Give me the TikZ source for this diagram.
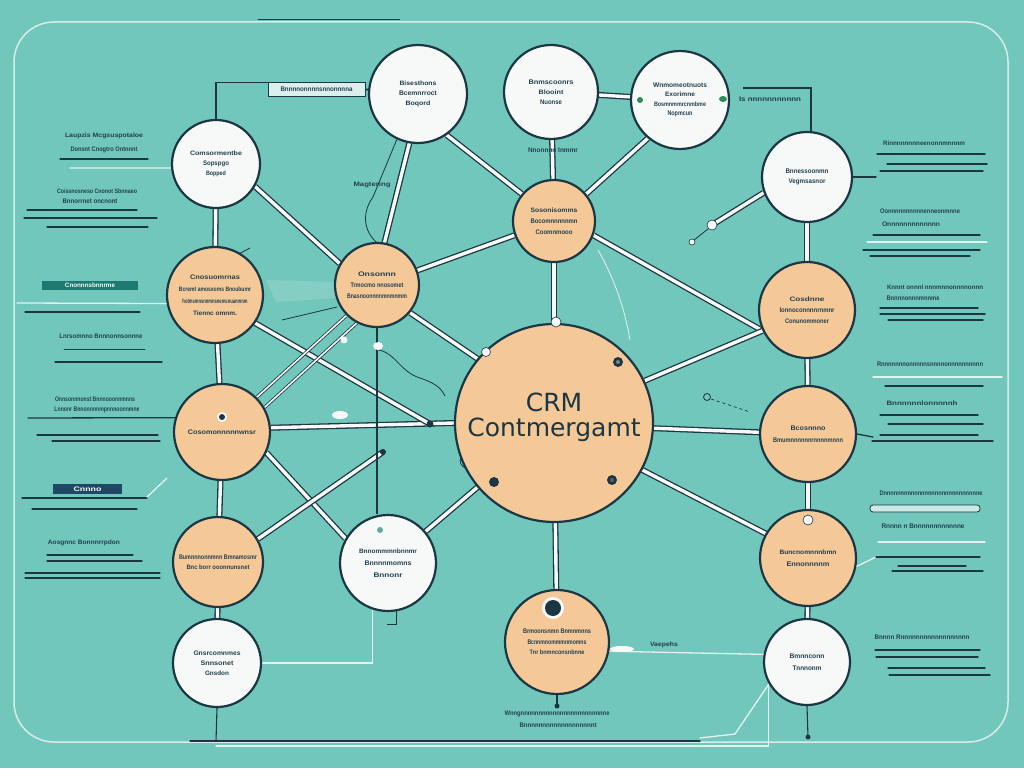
\documentclass[tikz,border=0pt]{standalone}
\usepackage{fontspec}
\setmainfont{Liberation Sans}
\newfontfamily\crmfont{DejaVu Sans}
\usepackage{graphicx}
\pgfdeclarelayer{back}
\pgfdeclarelayer{edges}
\pgfsetlayers{back,edges,main}
\definecolor{bgc}{HTML}{72C7BC}
\definecolor{peach}{HTML}{F5C898}
\definecolor{wh}{HTML}{F7F9F8}
\definecolor{dk}{HTML}{1B3744}
\definecolor{tx}{HTML}{22404F}
\definecolor{tealbox}{HTML}{1D7A70}
\definecolor{navybox}{HTML}{1E4864}
\definecolor{gdot}{HTML}{2E8B5A}
\newcommand{\gb}[2]{\resizebox{#1pt}{4.6pt}{\bfseries #2}}
\begin{document}
\begin{tikzpicture}[x=1pt,y=-1pt,
  wc/.style={circle, draw=dk, line width=2.2pt, fill=wh, inner sep=0pt, align=center, text=tx, font=\fontsize{4}{10}\selectfont},
  pc/.style={wc, fill=peach},
  dbl/.style={draw=dk, line width=1.3pt, double=wh, double distance=3.4pt},
  dbls/.style={draw=dk, line width=0.8pt, double=wh, double distance=1.6pt},
  tln/.style={draw=dk, line width=1.1pt},
  ln/.style={draw=dk, line width=1.3pt, line cap=round},
  wln/.style={draw=wh, line width=1.3pt, opacity=.85, line cap=round},
  lab/.style={inner sep=0pt, text=tx}]
\useasboundingbox (0,0) rectangle (1024,768);
\begin{pgfonlayer}{back}
\fill[bgc] (0,0) rectangle (1024,768);
\draw[wh, line width=1.5pt, opacity=.75, rounded corners=40pt] (14,22) rectangle (1008,742);
\draw[dk, line width=.8pt] (258,19) -- (400,19);
\fill[wh, opacity=.15] (266,280) -- (338,282) -- (336,298) -- (276,302) -- cycle;
\end{pgfonlayer}

% ---------- circles ----------
\node[wc, minimum size=88pt] (nA) at (216,164) {\gb{52}{Comsormentbe}\\\gb{26}{Sopspgo}\\\gb{20}{Bopped}};
\node[wc, minimum size=98pt] (nB) at (418,94) {\gb{37}{Bisesthons}\\\gb{38}{Bcemnrroct}\\\gb{25}{Boqord}};
\node[wc, minimum size=94pt] (nC) at (551,92) {\gb{45}{Bnmscoonrs}\\\gb{25}{Blooint}\\\gb{22}{Nuonse}};
\node[wc, minimum size=98pt, font=\fontsize{4}{9.5}\selectfont] (nD) at (680,100) {\gb{54}{Wnmomeotnuots}\\\gb{30}{Exorimne}\\\gb{52}{Bosmnmmrcnmbme}\\\gb{25}{Nopmcun}};
\node[wc, minimum size=90pt] (nE) at (807,177) {\gb{43}{Bnnessoonmn}\\\gb{37}{Vegmsasnor}};
\node[wc, minimum size=96pt, font=\fontsize{4}{12}\selectfont] (nF) at (388,563) {\gb{58}{Bnnommmnbnnmr}\\\gb{47}{Bnnnnmomns}\\\gb{29}{Bnnonr}};
\node[wc, minimum size=88pt] (nG) at (217,663) {\gb{47}{Gnsrcomnmes}\\\gb{33}{Snnsonet}\\\gb{24}{Gnsdon}};
\node[wc, minimum size=86pt, font=\fontsize{4}{12}\selectfont] (nH) at (807,662) {\gb{35}{Bmnnconn}\\\gb{29}{Tnnnonm}};

\node[pc, minimum size=96pt, font=\fontsize{4}{12}\selectfont] (p1) at (215,295) {\gb{50}{Cnosuomrnas}\\\gb{72}{Bcremt amosxoms Bnoubumr}\\\gb{65}{hotmsmnsnnmnsnemsnuanmnm}\\\gb{44}{Tiennc omnm.}};
\node[pc, minimum size=84pt, font=\fontsize{4}{11}\selectfont] (p2) at (377,285) {\gb{38}{Onsonnn}\\\gb{53}{Trmocmo nnosomet}\\\gb{60}{Bnasnoonnnnmnmnmm}};
\node[pc, minimum size=82pt, font=\fontsize{4}{11}\selectfont] (p3) at (554,221) {\gb{47}{Sosonisomms}\\\gb{47}{Bocomnnnnnmn}\\\gb{37}{Coomnmooo}};
\node[pc, minimum size=96pt, font=\fontsize{4}{11}\selectfont] (p4) at (807,310) {\gb{35}{Cosdnne}\\\gb{55}{Ionnoconnnnrnmnr}\\\gb{44}{Conunommoner}};
\node[pc, minimum size=96pt] (p5) at (222,432) {\gb{68}{Cosomonnnnnwnsr}};
\node[pc, minimum size=96pt, font=\fontsize{4}{12}\selectfont] (p6) at (808,434) {\gb{35}{Bcosnnno}\\\gb{70}{Bmumnnnnnnrnnnnmnnn}};
\node[pc, minimum size=90pt] (p7) at (218,562) {\gb{78}{Bumnnnonnmnn Bmnamosmr}\\\gb{63}{Bnc borr ooonnunsnet}};
\node[pc, minimum size=96pt, font=\fontsize{4}{12}\selectfont] (p8) at (808,558) {\gb{57}{Buncnomnnnbmn}\\\gb{43}{Ennonnnnm}};
\node[pc, minimum size=104pt, font=\fontsize{4}{10.5}\selectfont] (p9) at (557,642) {\gb{68}{Brmoonsnmn Bnmnmnns}\\\gb{59}{Bcnnmnommmnmomns}\\\gb{55}{Tnr bnmnconsnbnne}};
\node[pc, minimum size=198pt, text=dk, font=\crmfont\fontsize{25}{25}\selectfont] (crm) at (554,423) {CRM\\Contmergamt\\[-8pt]\mbox{}};

% ---------- labels ----------
\node[lab, fill=wh!80!bgc, draw=dk, line width=.8pt, minimum width=97pt, minimum height=14pt] (lbl1) at (316.5,89.5) {\gb{72}{Bnnnnonnnnsnnonnnna}};
\node[lab] (l1) at (104,136) {\gb{78}{Laupzis Mcgsuspotaloe}};
\node[lab] (l2) at (104,150) {\gb{67}{Donsnt Cnogtro Ontnnnt}};
\node[lab] (l3) at (97,191) {\gb{80}{Coissnosneso Cnonot Sbnnaeo}};
\node[lab] (l4) at (90,201) {\gb{55}{Bnnorrnet oncnont}};
\node[lab, fill=tealbox, minimum width=96pt, minimum height=9pt, text=wh] (l5) at (90,285.5) {\gb{50}{Cnonnnsbnnrme}};
\node[lab] (l6) at (101,336) {\gb{83}{Lnrsomnno Bnnnonnsonnne}};
\node[lab] (l7) at (95,399) {\gb{80}{Onnsonnnonst Bnnnooonnmnns}};
\node[lab] (l8) at (97,410) {\gb{85}{Lnnonr Bnnonnnnmpnnnoonnmne}};
\node[lab, fill=navybox, minimum width=69pt, minimum height=10pt, text=wh] (l9) at (87.5,489) {\gb{28}{Cnnno}};
\node[lab] (l10) at (84,543) {\gb{72}{Aosgnnc Bonnnrrpdon}};
\node[lab] (r1) at (924,143) {\gb{82}{Rinnnnnnnneenonnmnnnm}};
\node[lab] (r2) at (920,211) {\gb{80}{Oonnnnnnnnnnenneonmnne}};
\node[lab] (r3) at (911,224) {\gb{58}{Onnnnnnnnnnnnn}};
\node[lab] (r4) at (935,287) {\gb{96}{Knnnt onnnl nnnmnnonnnnonnn}};
\node[lab] (r5) at (913,298) {\gb{53}{Bnnnnonnnmnnme}};
\node[lab] (r6) at (930,364) {\gb{106}{Rnnnnnnnonnnnnsnnnnonnnnnnnnnn}};
\node[lab] (r7) at (922,403) {\gb{71}{Bnnnnnnlonnnnnh}};
\node[lab] (r8) at (931,493) {\gb{103}{Dnnnnnnnnnnnnnnnnnnnnnnnnnnnne}};
\node[lab] (r9) at (923,526) {\gb{83}{Rnnnn n Bnnnnnnnnnnnne}};
\node[lab] (r10) at (922,637) {\gb{95}{Bnnnn Rnnnnnnnnnnnnnnnnnn}};
\node[lab] (m1) at (372,185) {\gb{37}{Magtering}};
\node[lab] (m2) at (553,150) {\gb{50}{Nnonnnn Inmmr}};
\node[lab] (m3) at (770,99) {\gb{62}{Is nnnnnnnnnnn}};
\node[lab] (m5) at (664,645) {\gb{28}{Vaepehs}};
\node[lab] (m6) at (557,714) {\gb{105}{Wnngnnnnnnnnnnnnnnnnnnnnnnnne}};
\node[lab] (m7) at (558,725) {\gb{77}{Bnnnnnnnnnnnnnnnnnnnt}};

% ---------- coordinates ----------
\coordinate (dA) at (430,424);
\coordinate (dB) at (383,452);
\coordinate (eD1) at (712,225);
\coordinate (mg) at (373,197);
\coordinate (ec) at (743,88);
\coordinate (gb) at (216,741);
\coordinate (hb) at (808,737);
\coordinate (pb) at (557,706);
\coordinate (wl1) at (216,746);
\coordinate (wl2) at (700,738);
\coordinate (er) at (876,177);
\coordinate (e6) at (873,437);
\coordinate (l7s) at (28,418);
\coordinate (aw) at (70,168);
\coordinate (pw) at (17,303);
\coordinate (p8w) at (878,556);

% ---------- connectors ----------
\begin{pgfonlayer}{edges}
\draw[dbl] (nA) -- (p1);
\draw[dbl] (nA.-30) -- (p2.150);
\draw[dbl] (nB.-100) -- (p2.80);
\draw[dbl] (nB.-55) -- (p3.140);
\draw[dbl] (nC) -- (p3);
\draw[dbl] (nC) -- (nD);
\draw[dbl] (nD.-130) -- (p3.40);
\draw[dbl] (p2) -- (p3);
\draw[dbl] (p3.-20) -- (p4.205);
\draw[dbl] (p3) -- (crm);
\draw[dbl] (p2.-40) -- (crm.140);
\draw[dbl] (crm.25) -- (p4.205);
\draw[dbl] (crm.-3) -- (p6.178);
\draw[dbl] (crm.-28) -- (p8.150);
\draw[dbl] (crm) -- (p9);
\draw[dbl] (crm.-140) -- (nF.40);
\draw[dbl] (p5.5) -- (crm.180);
\draw[dbl] (p1.-35) -- (dA);
\draw[dbl] (p5.-25) -- (nF.150);
\draw[dbl] (p7.30) -- (dB);
\draw[dbls] (p5.45) -- (p2.-135);
\draw[dbls] (p5.30) -- (p2.-118);
\draw[dbl] (p1) -- (p5);
\draw[dbl] (p5) -- (p7);
\draw[dbl] (p7) -- (nG);
\draw[dbl] (nE) -- (p4);
\draw[dbl] (p4) -- (p6);
\draw[dbl] (p6) -- (p8);
\draw[dbl] (p8) -- (nH);
\draw[dbl] (nE.-160) -- (eD1);
\draw[tln] (nA.north) |- (lbl1.north west);
\draw[tln, line width=1.8pt] (lbl1.east) -- (nB.175);
\draw[tln, line width=.8pt] (nB.-115) -- (mg) .. controls (360,215) and (365,235) .. (380,245);
\draw[tln] (p2.south) -- (p2.south |- nF.north);
\draw[tln] (nE.85) |- (ec);
\draw[tln] (nF.-80) -- ++(0,13) -- ++(-10,0);
\draw[tln] (nG.south) -- (gb);
\draw[tln] (nH.south) -- (hb);
\draw[tln] (p9.south) -- (pb);
\draw[wln] (nG.east) -| (nF.-108);
\draw[wln] (p9.-10) -- (nH.170);
\draw[wln] (wl1) -| (nH.-150);
\draw[wln] (wl2) -- (735,734) -- (nH.-150);
\draw[ln] (nE.east) -- (er);
\draw[ln] (p6.east) -- (e6);
\draw[ln] (l7s) -- (p5.163);
\draw[wln] (aw) -- (nA.185);
\draw[wln] (pw) -- (p1.190);
\draw[wln] (p8.-10) -- (p8w);
\draw[wln, line width=.8pt] (598,250) .. controls (615,280) and (625,310) .. (630,340);
\draw[tln, line width=.8pt] (378,350) .. controls (395,352) and (400,372) .. (420,378) .. controls (438,384) and (442,390) .. (445,396);
\draw[tln, line width=.8pt] (282,320) -- (337,307);
\draw[tln, line width=.8pt] (233,257) -- (250,248);
\draw[tln, line width=.8pt] (470,455) .. controls (458,452) and (455,468) .. (472,470);
\end{pgfonlayer}

% ---------- small strokes ----------
\draw[ln] (60,159) -- (148,159);
\draw[ln] (27,210) -- (137,210);
\draw[ln] (24,218) -- (157,218);
\draw[ln] (47,227) -- (148,227);
\draw[ln] (25,312) -- (140,312);
\draw[ln, line width=.8pt] (64,349) -- (145,349);
\draw[ln] (55,362) -- (162,362);
\draw[ln] (37,435) -- (158,435);
\draw[ln] (52,441) -- (160,441);
\draw[ln] (22,498) -- (147,498);
\draw[wln] (147,497) -- (167,478);
\draw[ln] (32,509) -- (137,509);
\draw[ln] (47,555) -- (133,555);
\draw[ln] (47,561) -- (142,561);
\draw[ln] (25,573) -- (160,573);
\draw[ln] (25,578) -- (160,578);
\draw[ln] (877,154) -- (985,154);
\draw[ln] (887,164) -- (987,164);
\draw[ln] (880,171) -- (983,171);
\draw[ln] (873,235) -- (980,235);
\draw[wln] (867,242) -- (987,242);
\draw[ln] (863,250) -- (980,250);
\draw[ln] (870,256) -- (970,256);
\draw[ln] (880,308) -- (978,308);
\draw[ln] (880,314) -- (985,314);
\draw[ln] (888,320) -- (983,320);
\draw[wln] (873,377) -- (1002,377);
\draw[ln] (885,386) -- (983,386);
\draw[ln] (880,415) -- (978,415);
\draw[ln] (888,424) -- (983,424);
\draw[ln] (880,435) -- (978,435);
\draw[ln] (872,441) -- (993,441);
\draw[dk, line width=.8pt, fill=wh!70!bgc, rounded corners=3pt] (870,505) rectangle (980,512);
\draw[wln] (878,542) -- (985,542);
\draw[ln] (876,557) -- (980,557);
\draw[ln] (898,566) -- (966,566);
\draw[ln] (892,571) -- (983,571);
\draw[ln] (875,650) -- (980,650);
\draw[ln] (876,657) -- (978,657);
\draw[ln] (888,668) -- (985,668);
\draw[ln] (889,675) -- (990,675);
\draw[ln] (190,741) -- (700,741);

% ---------- dots ----------
\fill[gdot] (640,100) circle (3);
\fill[gdot] (723,99) ellipse (4 and 3);
\draw[dk, line width=.6pt, fill=wh] (486,352) circle (4.5);
\draw[dk, line width=.6pt, fill=wh] (556,322) circle (5);
\fill[dk] (618,362) circle (5); \fill[gray] (618,362) circle (2);
\fill[dk] (494,482) circle (5);
\fill[dk] (612,480) circle (5); \fill[gray!60!dk] (612,480) circle (2);
\fill[dk] (dA) circle (3.5);
\fill[dk] (dB) circle (3);
\fill[wh] (222,417) circle (5); \fill[dk] (222,417) circle (3);
\draw[dk, line width=.6pt, fill=wh] (808,520) circle (5);
\fill[bgc!80!dk] (380,530) circle (3);
\fill[wh] (553,608) circle (11); \fill[dk] (553,608) circle (8);
\draw[dk, line width=.6pt, fill=wh] (eD1) circle (5);
\draw[dk, line width=.8pt] (708,229) -- (694,240);
\draw[dk, line width=.6pt, fill=wh] (692,242) circle (3);
\fill[dk] (pb) circle (2.5);
\fill[dk] (hb) circle (2.5);
\draw[dk, line width=.8pt] (707,397) circle (3.5);
\draw[dk, line width=.7pt, dashed] (711,399) -- (750,412);
\fill[wh] (378,346) ellipse (5 and 4);
\fill[wh] (344,340) circle (3.5);
\fill[wh] (340,415) ellipse (8 and 4);
\fill[wh] (622,649) ellipse (12 and 3);
\end{tikzpicture}
\end{document}
